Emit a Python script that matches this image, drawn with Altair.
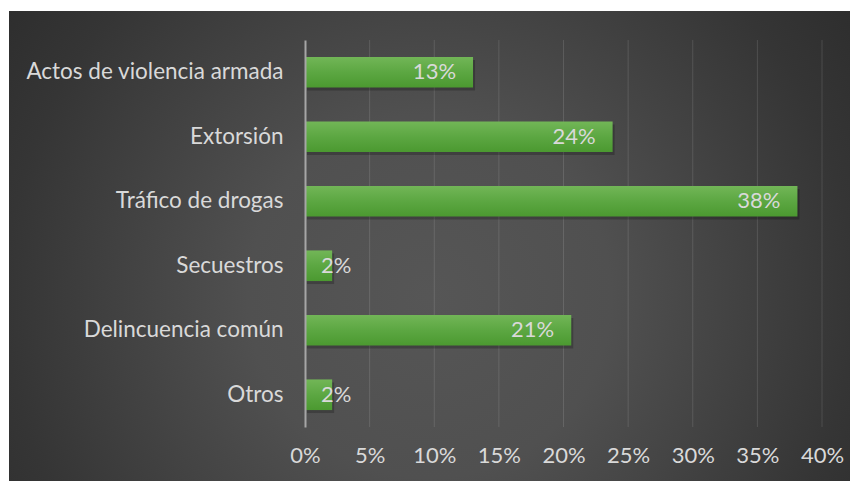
import altair as alt
import pandas as pd

categories = ["Actos de violencia armada", "Extorsión", "Tráfico de drogas",
              "Secuestros", "Delincuencia común", "Otros"]
values = [0.130, 0.238, 0.381, 0.021, 0.206, 0.021]
x_ticks = [0.0, 0.05, 0.10, 0.15, 0.20, 0.25, 0.30, 0.35, 0.40]

df = pd.DataFrame({"cat": categories, "value": values})
grid_df = pd.DataFrame({"tick": x_ticks[1:]})

W, H = 517, 387
PL, PT, PR, PB = 297, 32, 28, 54
FONT = "Lato"
TXT = "#d9d9d9"

xscale = alt.Scale(domain=[0, 0.4])
yscale = alt.Scale(paddingInner=0.525, paddingOuter=0.2625)
xaxis = alt.Axis(title=None, values=x_ticks, format=".0%", grid=False, domain=False,
                 ticks=False, labelColor=TXT, labelFont=FONT, labelFontSize=22,
                 labelPadding=18, labelFlush=False, labelOverlap=False,
                 labelBound=False, zindex=1)

bg_grad = alt.RadialGradient(
    gradient="radial",
    x1=0.5, y1=0.56, r1=0.0, x2=0.5, y2=0.56, r2=0.72,
    stops=[alt.GradientStop(offset=0, color="#565656"),
           alt.GradientStop(offset=0.3, color="#505050"),
           alt.GradientStop(offset=0.7, color="#353535"),
           alt.GradientStop(offset=1, color="#262626")],
)
bar_grad = alt.LinearGradient(
    gradient="linear", x1=0, y1=0, x2=0, y2=1,
    stops=[alt.GradientStop(offset=0, color="#72b657"),
           alt.GradientStop(offset=0.5, color="#5ca742"),
           alt.GradientStop(offset=1, color="#4b9930")],
)

background = alt.Chart(pd.DataFrame({"a": [0]})).mark_rect(fill=bg_grad).encode(
    x=alt.value(-PL + 1), x2=alt.value(W + PR),
    y=alt.value(-PT + 3), y2=alt.value(H + PB),
)

grid = alt.Chart(grid_df).mark_rule(color="#ffffff", opacity=0.12, strokeWidth=1).encode(
    x=alt.X("tick:Q", scale=xscale, axis=xaxis)
)

base = alt.Chart(df).encode(
    y=alt.Y("cat:N", sort=categories, scale=yscale,
            axis=alt.Axis(title=None, ticks=False, domain=True, domainColor="#a6a6a6",
                          domainWidth=2, labelColor=TXT, labelFont=FONT, labelFontSize=22.5,
                          labelPadding=22, labelLimit=400, zindex=1)),
)

shadow = base.mark_bar(color="#000000", opacity=0.22, xOffset=2, yOffset=3).encode(
    x=alt.X("value:Q", scale=xscale, axis=xaxis)
)

bars = base.mark_bar(fill=bar_grad).encode(
    x=alt.X("value:Q", scale=xscale, axis=xaxis),
)

labels_in = base.transform_filter("datum.value >= 0.05").mark_text(
    align="right", baseline="middle", dx=-17, font=FONT, fontSize=22, color=TXT
).encode(x=alt.X("value:Q", scale=xscale, axis=xaxis),
         text=alt.Text("value:Q", format=".0%"))

labels_small = base.transform_filter("datum.value < 0.05").transform_calculate(
    zero="0"
).mark_text(
    align="left", baseline="middle", dx=16, font=FONT, fontSize=22, color=TXT
).encode(x=alt.X("zero:Q", scale=xscale, axis=xaxis),
         text=alt.Text("value:Q", format=".0%"))

chart = alt.layer(background, grid, shadow, bars, labels_in, labels_small).properties(
    width=W, height=H,
    autosize=alt.AutoSizeParams(type="none"),
    padding={"left": PL, "top": PT, "right": PR, "bottom": PB},
    background="#ffffff",
).configure_view(stroke=None)

chart.save("out.html", embed_options={"renderer": "svg", "actions": False})
